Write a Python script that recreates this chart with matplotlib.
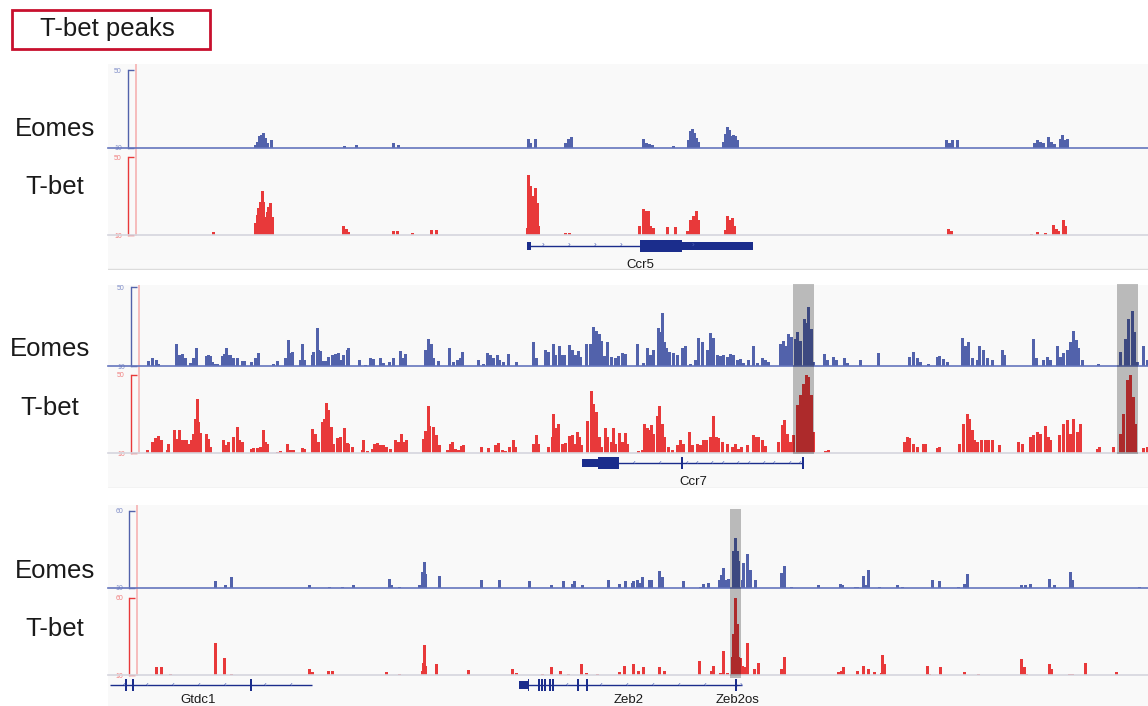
import matplotlib
matplotlib.use("Agg")
import matplotlib.pyplot as plt
from matplotlib.patches import Rectangle

plt.rcParams['font.family'] = ['Liberation Sans', 'DejaVu Sans']

# ---------------------------------------------------------------------------
# Data: (window position, signal)
# ---------------------------------------------------------------------------
eomes_ccr5 = [
    (255, 11.5), (257, 13), (259, 16), (261, 16.5), (263, 17.5), (265, 15), (267, 12.5), (271, 14),
    (344, 11), (356, 11.5), (393, 12.5), (398, 11.5),
    (528, 14.5), (530, 12.5), (535, 14.5), (565, 12.5), (568, 14.5), (571, 15.5),
    (643, 14.5), (646, 12.5), (649, 12), (652, 11.5), (673, 11),
    (688, 14), (690, 18.5), (692, 20), (694, 17.5), (696, 15), (698, 13),
    (723, 13), (725, 17), (727, 21), (729, 19), (731, 16), (733, 16.5), (735, 16), (737, 14),
    (946, 14), (949, 12.5), (952, 14), (957, 14),
    (1034, 12.5), (1037, 14), (1040, 13), (1043, 12.5), (1048, 15.5), (1051, 13), (1054, 12),
    (1060, 14.5), (1062, 16.5), (1065, 14), (1067, 14.5),
]
tbet_ccr5 = [
    (213, 11.5),
    (255, 16), (257, 20.5), (258, 24), (260, 27), (262, 32.5), (263, 27), (265, 19), (267, 22),
    (268, 24.5), (270, 26.5), (272, 19),
    (343, 14.5), (346, 13), (348, 11.5), (393, 12), (397, 12), (412, 11), (431, 12.5), (436, 12.5),
    (527, 13.5), (528, 41), (530, 35), (532, 20), (533, 30), (535, 34), (537, 26.5), (538, 14.5),
    (565, 11), (569, 11),
    (639, 14.5), (643, 23.5), (645, 22.5), (648, 22.5), (650, 14.5), (653, 13.5),
    (667, 14), (675, 14),
    (687, 12), (690, 17.5), (693, 20), (696, 22.5), (698, 17.5),
    (725, 12.5), (727, 20), (730, 17.5), (732, 18.5), (734, 14.5),
    (948, 13), (951, 12),
    (1031, 10.5), (1037, 11.5), (1045, 11), (1053, 15), (1056, 13), (1058, 12), (1063, 17.5), (1065, 14.5),
]
eomes_ccr7 = [
    (148, 12.5), (152, 14), (156, 13), (158, 11),
    (176, 21), (178, 15.5), (180, 15.5), (182, 16), (185, 14), (190, 11.5), (193, 14), (196, 19),
    (206, 15), (208, 15.5), (210, 15), (212, 12), (215, 11), (217, 11),
    (222, 15), (224, 16), (226, 19), (228, 15.5), (230, 15.5), (233, 14), (237, 14), (242, 12.5), (244, 12.5),
    (251, 12), (255, 14), (258, 16.5), (273, 11), (277, 12.5),
    (285, 14), (288, 23), (290, 16.5), (292, 17), (300, 13), (302, 21), (304, 13),
    (312, 15.5), (313, 17), (317, 29), (318, 18), (320, 17.5),
    (323, 12.5), (326, 12.5), (328, 14.5), (332, 15.5), (335, 16), (338, 16.5), (340, 13), (343, 15.5),
    (347, 18), (348, 19),
    (359, 13), (365, 10.5), (370, 14), (373, 13.5), (380, 14), (383, 11.5),
    (389, 12), (393, 14), (400, 17.5), (403, 14), (405, 16),
    (425, 18), (428, 23.5), (431, 21), (433, 14), (438, 12.5),
    (449, 19), (453, 12), (457, 13), (460, 14), (462, 17), (478, 13),
    (483, 11), (487, 16.5), (490, 15.5), (493, 14), (497, 15.5), (499, 13), (503, 12), (508, 16), (516, 12),
    (533, 22), (536, 14),
    (545, 18), (548, 17), (553, 21), (555, 15.5), (559, 20), (562, 15.5), (564, 15.5),
    (569, 20.5), (572, 18), (575, 15.5), (578, 17.5), (580, 14.5),
    (586, 21), (590, 21), (593, 30), (596, 27.5), (599, 26), (601, 22.5),
    (604, 15), (607, 22), (611, 14.5), (615, 14), (618, 15), (622, 16.5), (625, 16),
    (637, 21), (643, 11.5), (647, 19), (650, 15.5), (653, 18), (658, 29), (659, 27), (662, 37), (664, 22),
    (666, 19), (669, 17), (673, 16.5), (677, 15.5), (682, 19), (685, 20),
    (690, 11), (695, 13), (698, 24), (702, 22), (707, 18), (710, 26.5), (713, 24), (717, 15.5),
    (720, 15), (723, 15.5), (727, 14.5), (730, 16), (733, 15.5), (737, 13), (740, 13.5), (743, 11.5),
    (748, 13), (753, 20), (757, 11.5), (762, 14), (765, 13), (768, 12),
    (780, 21), (783, 22.5), (786, 20), (788, 26), (791, 24.5), (795, 23.5), (797, 27), (800, 22.5),
    (804, 34), (806, 32), (808, 40), (811, 28.5), (813, 12),
    (824, 16), (827, 13), (833, 14.5), (836, 13), (844, 14), (847, 11.5), (860, 13), (878, 16.5),
    (909, 14.5), (913, 17), (917, 14), (920, 12), (928, 11), (937, 14.5), (939, 15), (943, 13.5), (947, 12),
    (962, 24), (965, 20), (968, 22), (972, 14), (977, 13), (979, 20), (983, 18), (987, 14), (992, 13),
    (1002, 18), (1004, 15.5),
    (1033, 23.5), (1036, 14), (1043, 13), (1047, 14.5), (1050, 13),
    (1057, 20), (1060, 14.5), (1063, 16.5), (1067, 18), (1070, 22), (1073, 27.5), (1076, 23), (1078, 19), (1082, 13),
    (1098, 11),
    (1120, 17), (1125, 23.5), (1128, 34), (1132, 38), (1134, 27), (1137, 12), (1143, 20), (1147, 13),
]
tbet_ccr7 = [
    (147, 11.5), (152, 15.5), (155, 17.5), (158, 18.5), (161, 16.5),
    (167, 11.5), (168, 14.5), (174, 22), (177, 17), (179, 22), (182, 16.5), (183, 16.5), (186, 16.5),
    (188, 14.5), (191, 16.5), (193, 20), (195, 27.5), (197, 37.5), (198, 26), (200, 20.5),
    (206, 20), (208, 17), (210, 13),
    (223, 16.5), (226, 14), (228, 15.5), (233, 18), (237, 23.5), (239, 16.5), (242, 15.5),
    (251, 12), (253, 12.5), (257, 12.5), (260, 13), (263, 22), (265, 15.5), (267, 14.5),
    (277, 10.5), (280, 11), (287, 14.5), (290, 11.5), (293, 11.5), (302, 12.5), (304, 12),
    (312, 22.5), (315, 20), (318, 15.5), (322, 26), (324, 27.5), (326, 35.5), (328, 32), (331, 23.5),
    (333, 14.5), (337, 17.5), (340, 18), (344, 23), (347, 15), (348, 14.5), (352, 13),
    (362, 11.5), (363, 16.5), (367, 11), (372, 12), (374, 14.5), (377, 15), (380, 14), (383, 14),
    (386, 13), (390, 12),
    (395, 16.5), (398, 15.5), (401, 20), (403, 15.5), (406, 16.5),
    (423, 17), (425, 21.5), (428, 34), (429, 24), (433, 23.5), (436, 19), (439, 14),
    (447, 11.5), (450, 14.5), (452, 15.5), (455, 12), (458, 11.5), (461, 13.5), (463, 14), (481, 13),
    (488, 12.5), (495, 14), (498, 15), (502, 11.5), (505, 11), (509, 13), (513, 16.5), (515, 13),
    (533, 14.5), (536, 19), (538, 14.5),
    (548, 13), (552, 18), (553, 30), (556, 23), (558, 25), (562, 14.5), (565, 15), (569, 18.5),
    (572, 19), (575, 14.5), (577, 21), (579, 18), (581, 14),
    (587, 26.5), (591, 42), (593, 35), (596, 31), (599, 18),
    (601, 13), (605, 23), (607, 18), (611, 15.5), (613, 23), (615, 14.5), (619, 20.5), (622, 15.5),
    (625, 20.5), (627, 14.5), (638, 11), (642, 11.5),
    (644, 25), (647, 23), (648, 22), (651, 24.5), (653, 20), (657, 29), (659, 34), (662, 25), (664, 18),
    (668, 13), (672, 11.5),
    (677, 14), (680, 16.5), (683, 14.5), (689, 21), (692, 14), (697, 14.5), (700, 14), (703, 16.5),
    (706, 16.5), (710, 18), (713, 29), (716, 18),
    (718, 17.5), (722, 15.5), (727, 14.5), (732, 13), (735, 14.5), (738, 12), (741, 13), (747, 14),
    (753, 19), (755, 18), (758, 18), (762, 16.5), (765, 13.5),
    (778, 15.5), (782, 24.5), (784, 27), (787, 20), (790, 15.5), (793, 19), (797, 34.5), (800, 40),
    (803, 45.5), (806, 50), (808, 49), (811, 40), (813, 21),
    (825, 11), (828, 11.5),
    (904, 15.5), (907, 18), (909, 17.5), (913, 14.5), (917, 13), (923, 14.5), (925, 14.5),
    (937, 12.5), (939, 13),
    (959, 14.5), (963, 25), (967, 30), (969, 27.5), (972, 22), (974, 16.5), (977, 15.5), (981, 16.5),
    (985, 16.5), (988, 16.5), (992, 16.5), (999, 14), (1018, 15.5), (1022, 14.5),
    (1030, 18), (1033, 19), (1037, 21), (1040, 20), (1045, 24), (1048, 18), (1050, 16.5),
    (1059, 19), (1063, 25), (1067, 27), (1070, 20), (1073, 27.5), (1077, 21), (1080, 25),
    (1097, 12), (1099, 13), (1113, 13),
    (1120, 20), (1123, 30), (1127, 47.5), (1130, 50), (1133, 38.5), (1135, 25), (1143, 12.5), (1147, 13),
]
eomes_zeb2 = [
    (215, 14.5), (225, 12), (231, 17), (309, 12), (329, 10.5), (342, 10.5), (353, 12),
    (389, 16), (391, 12), (399, 10.5), (419, 12), (422, 20.5), (424, 27), (425, 19), (439, 18),
    (481, 15), (499, 15), (529, 14.5), (551, 12), (563, 14.5), (572, 12.5), (574, 14.5), (582, 12),
    (608, 15), (619, 12.5), (625, 14.5), (632, 13), (633, 14.5), (637, 15), (640, 13), (642, 17),
    (649, 15), (651, 15), (659, 21), (662, 17), (683, 14.5), (700, 10.5), (703, 12.5), (708, 13),
    (719, 15), (721, 18.5), (723, 23), (726, 15), (728, 16),
    (733, 34), (735, 42), (737, 34), (738, 27.5),
    (742, 15), (743, 26), (747, 32), (750, 21.5), (755, 15),
    (781, 19.5), (784, 24), (791, 10.5), (818, 12),
    (840, 12.5), (842, 12), (855, 10.5), (857, 10.5), (863, 18), (866, 12), (868, 21.5), (879, 10.5),
    (897, 12), (902, 10.5), (932, 15), (939, 14.5), (958, 10.5), (964, 12.5), (967, 19),
    (1021, 12), (1025, 12), (1030, 12.5), (1049, 16), (1054, 12), (1070, 20.5), (1072, 15), (1139, 10.5),
]
tbet_zeb2 = [
    (156, 15), (161, 15), (170, 10.5), (215, 30.5), (224, 21), (231, 10.5),
    (309, 14), (312, 12), (328, 12.5), (332, 12.5), (386, 12), (399, 10.5),
    (422, 12.5), (423, 18), (424, 29.5), (425, 16), (436, 17), (468, 13), (512, 14), (516, 11.5),
    (542, 10.5), (551, 15), (560, 12.5), (568, 10.5), (581, 17), (586, 11.5), (597, 10.5),
    (619, 12), (624, 16), (633, 17), (638, 12.5), (643, 15), (659, 15), (664, 12.5),
    (699, 19), (711, 12.5), (713, 16), (720, 11.5), (723, 25.5), (727, 11.5),
    (732, 21.5), (733, 36.5), (735, 60), (737, 43), (738, 21.5),
    (740, 21), (742, 16), (745, 15), (747, 30.5), (754, 14), (758, 18), (781, 14), (784, 21.5),
    (838, 12), (841, 12.5), (843, 15), (857, 12.5), (863, 16), (868, 14), (874, 12), (881, 11.5),
    (882, 23), (884, 17), (927, 16), (929, 10.5), (940, 15), (964, 12), (978, 10.5),
    (1021, 20.5), (1024, 15), (1026, 10.5), (1049, 17), (1051, 14), (1069, 10.5), (1072, 10.5),
    (1085, 18), (1116, 12),
]

# Gene models: intron span, blocks (start, end, kind), strand arrows
ccr5_span = (528, 752)
ccr5_blocks = [(527, 531, 'utr'), (640, 682, 'cds'), (682, 753, 'utr')]
ccr5_arrows = [543, 569, 595, 621, 693]
ccr7_span = (598, 803)
ccr7_blocks = [(582, 598, 'utr'), (598, 619, 'cds'), (681, 683, 'cds'), (802, 804, 'cds')]
ccr7_arrows = [634, 660, 687, 697, 712, 723, 738, 749, 764, 774, 790, 800]
gtdc1_span = (110, 312)
gtdc1_blocks = [(125, 127, 'cds'), (132, 134, 'cds'), (250, 252, 'cds')]
gtdc1_arrows = [124, 147, 173, 199, 225, 265, 291]
zeb2_span = (519, 737)
zeb2_blocks = [(519, 528, 'utr'), (528, 529, 'cds'), (538, 540, 'cds'), (541, 543, 'cds'),
               (544, 546, 'cds'), (549, 551, 'cds'), (552, 554, 'cds'), (577, 579, 'cds'),
               (586, 588, 'cds')]
zeb2_arrows = [567, 601, 627, 653, 679, 705]
zeb2os_span = (735, 742)
zeb2os_blocks = [(735, 737, 'cds')]
zeb2os_arrows = [741]

ccr7_highlights = [(793, 814), (1117, 1138)]
zeb2_highlights = [(730, 741)]

# ---------------------------------------------------------------------------
W, H = 1148, 706
WINDOW = (108, 1148)
EOMES_BLUE = '#5262ab'
EOMES_LINE = '#6575bd'
TBET_RED = '#e8393a'
GENE_BLUE = '#1b2d8c'
PANEL_BG = '#f9f9f9'

fig = plt.figure(figsize=(W / 100, H / 100), dpi=100)


def px_axes(x0, y0, x1, y1):
    ax = fig.add_axes([x0 / W, 1 - y1 / H, (x1 - x0) / W, (y1 - y0) / H])
    ax.set_xlim(*WINDOW)
    return ax


def draw_track(top, base, bars, ymax, color, base_color, tick_color, spine_x):
    ax = px_axes(WINDOW[0], top, WINDOW[1], base)
    ax.set_ylim(10, ymax)
    ax.patch.set_alpha(0)
    pos = [b[0] for b in bars]
    hgt = [b[1] - 10 for b in bars]
    ax.bar(pos, hgt, bottom=10, width=3.0, color=color, linewidth=0)
    ax.axhline(10, color=base_color, lw=1.2, clip_on=False, zorder=3)
    for s in ['top', 'right', 'bottom']:
        ax.spines[s].set_visible(False)
    ax.spines['left'].set_position(('data', spine_x))
    ax.spines['left'].set_bounds(10, ymax)
    ax.spines['left'].set_color(color)
    ax.spines['left'].set_linewidth(1)
    ax.set_xticks([])
    ax.set_yticks([10, ymax])
    ax.set_yticklabels(['10', str(ymax)])
    ax.tick_params(axis='y', direction='in', length=4, width=1, color=color,
                   labelsize=5, labelcolor=tick_color, pad=4)
    return ax


def draw_gene(ax, span, blocks, arrows, strand, gy):
    ax.plot(span, [gy, gy], color=GENE_BLUE, lw=1, solid_capstyle='butt')
    for s, e, kind in blocks:
        h = 12 if kind == 'cds' else 7.5
        ax.add_patch(Rectangle((s, gy - h / 2), e - s, h, color=GENE_BLUE, lw=0))
    for a in arrows:
        ax.text(a, gy, '\u2039' if strand == '-' else '\u203a', color='#4d60b5',
                fontsize=6, ha='center', va='center')


def gene_axes(top, bottom):
    ax = px_axes(WINDOW[0], top, WINDOW[1], bottom)
    ax.set_ylim(bottom - top, 0)
    ax.axis('off')
    return ax


def panel(top, bottom, pink_x, pink_bottom):
    ax = px_axes(WINDOW[0], top, WINDOW[1], bottom)
    ax.set_ylim(bottom, top)
    ax.set_facecolor(PANEL_BG)
    for s in ax.spines.values():
        s.set_visible(False)
    ax.set_xticks([])
    ax.set_yticks([])
    ax.plot([pink_x, pink_x], [top, pink_bottom], color='#f6b2b2', lw=1.2)
    ax.axhline(bottom - 0.5, color='#dcdcdc', lw=1)
    return ax


def highlight(top, bottom, spans):
    ax = px_axes(WINDOW[0], top, WINDOW[1], bottom)
    ax.axis('off')
    for s, e in spans:
        ax.axvspan(s, e, color='black', alpha=0.25, lw=0)


def label(x, y, txt):
    fig.text(x / W, 1 - y / H, txt, fontsize=18.5, ha='center', va='center', color='#1a1a1a')


# title box
fig.patches.append(Rectangle((12 / W, 1 - 49 / H), 198 / W, 39 / H, transform=fig.transFigure,
                             fill=False, edgecolor='#c8102e', lw=2))
fig.text(107 / W, 1 - 29 / H, 'T-bet peaks', fontsize=18.5, ha='center', va='center', color='#1a1a1a')

# Panel 1 : Ccr5
panel(64, 270, 136, 235)
draw_track(70, 148, eomes_ccr5, 50, EOMES_BLUE, EOMES_LINE, '#7f8dc8', 127.5)
draw_track(157, 235, tbet_ccr5, 50, TBET_RED, '#d6d6de', '#f08080', 127.5)
g = gene_axes(235, 270)
draw_gene(g, ccr5_span, ccr5_blocks, ccr5_arrows, '+', 11)
g.text(640, 32.5, 'Ccr5', fontsize=9.5, ha='center', va='baseline', color='#1a1a1a')
label(55, 129, 'Eomes')
label(55, 187, 'T-bet')

# Panel 2 : Ccr7
panel(285, 488, 139, 453)
draw_track(287, 366, eomes_ccr7, 50, EOMES_BLUE, EOMES_LINE, '#7f8dc8', 130.5)
draw_track(375, 453, tbet_ccr7, 50, TBET_RED, '#d6d6de', '#f08080', 130.5)
g = gene_axes(453, 488)
draw_gene(g, ccr7_span, ccr7_blocks, ccr7_arrows, '-', 10)
g.text(693, 32, 'Ccr7', fontsize=9.5, ha='center', va='baseline', color='#1a1a1a')
highlight(284, 454, ccr7_highlights)
label(50, 349, 'Eomes')
label(50, 408, 'T-bet')

# Panel 3 : Zeb2
panel(505, 707, 136.5, 675)
draw_track(510.5, 588, eomes_zeb2, 60, EOMES_BLUE, EOMES_LINE, '#7f8dc8', 128.5)
draw_track(597.5, 675, tbet_zeb2, 60, TBET_RED, '#d6d6de', '#f08080', 128.5)
g = gene_axes(675, 707)
draw_gene(g, gtdc1_span, gtdc1_blocks, gtdc1_arrows, '-', 10)
draw_gene(g, zeb2_span, zeb2_blocks, zeb2_arrows, '-', 10)
draw_gene(g, zeb2os_span, zeb2os_blocks, zeb2os_arrows, '+', 10)
for name, x in [('Gtdc1', 198), ('Zeb2', 629), ('Zeb2os', 738)]:
    g.text(x, 28, name, fontsize=9.5, ha='center', va='baseline', color='#1a1a1a')
highlight(509, 678, zeb2_highlights)
label(55, 571, 'Eomes')
label(55, 629, 'T-bet')

fig.savefig('out.png', dpi=100)
